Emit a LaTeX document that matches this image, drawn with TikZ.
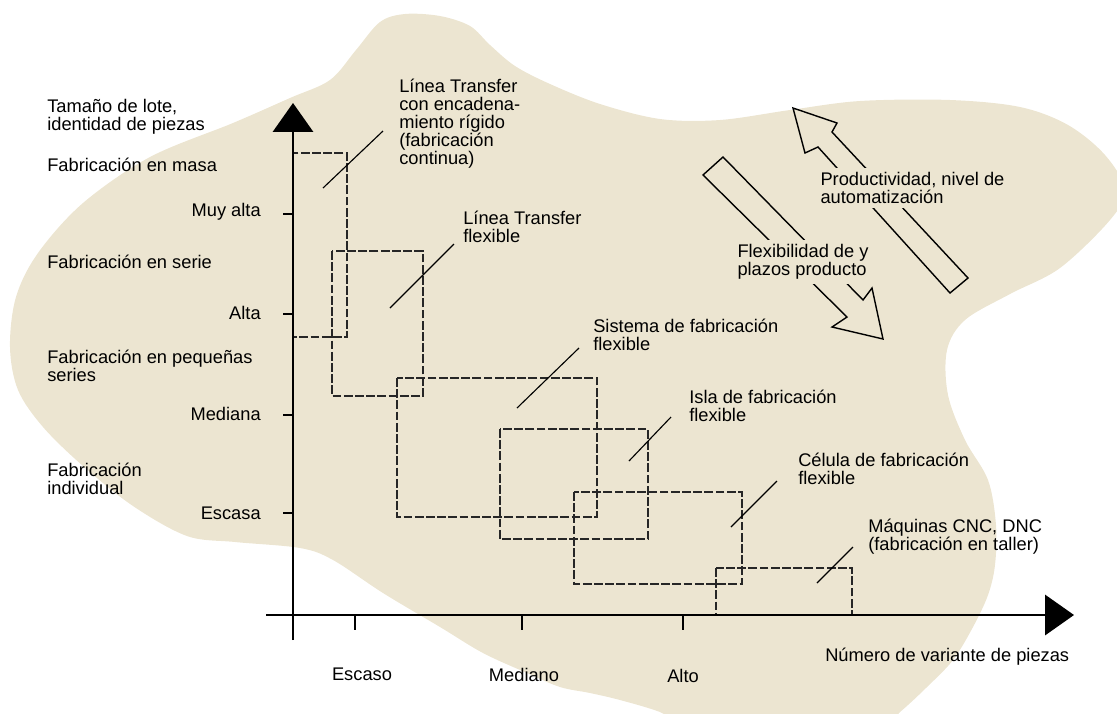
\documentclass[tikz,border=0pt]{standalone}
\usepackage{fontspec}
\setmainfont{Liberation Sans}
\usetikzlibrary{arrows.meta}
\definecolor{fondo}{RGB}{236,229,209}

\begin{document}
\begin{tikzpicture}[
    x=0.025cm, y=-0.025cm,
    eje/.style={line width=1.8pt, -{Triangle[length=0.72cm, width=1cm]}},
    marca/.style={line width=0.8pt},
    zona/.style={draw=black!85, line width=1.1pt, dash pattern=on 0.22cm off 0.06cm},
    guia/.style={line width=0.8pt},
    flecha/.style={draw, line width=1pt, line join=miter, fill=fondo},
    etiq/.style={inner sep=0pt, align=left, anchor=west,
        font=\fontsize{13}{12.8}\selectfont},
    nivel/.style={etiq, anchor=east, align=right},
    cruce/.style={etiq, fill=fondo, inner sep=3pt}
    ]

\useasboundingbox (0,0) rectangle (1117,713);

%background blob
\begin{scope}
\clip (0,0) rectangle (1117,713);
\fill[fondo] plot[smooth cycle, tension=0.55] coordinates {
    (330,80) (356,50) (380,22) (405,14) (440,16) (470,26) (490,45) (515,66)
    (550,84) (600,104) (660,119) (720,120) (790,110) (860,101) (950,100)
    (1020,107) (1068,125) (1105,155) (1125,190) (1110,220) (1060,268)
    (1010,294) (965,320) (947,350) (948,395) (965,440) (988,480) (996,525)
    (995,565) (988,595) (973,627) (953,660) (927,687) (900,712) (870,735)
    (700,730) (660,712) (620,700) (590,693) (560,687) (527,673) (483,653)
    (440,627) (383,593) (333,560) (300,548) (235,542) (187,536)
    (133,506) (83,466) (43,427) (18,390) (10,347) (16,297) (38,253)
    (83,203) (150,157) (233,123) (290,98)};
\end{scope}

%zones
\draw[zona] (293,153) rectangle (347,337);
\draw[zona] (332,251) rectangle (423,396);
\draw[zona] (397,378) rectangle (597,517);
\draw[zona] (500,429) rectangle (648,539);
\draw[zona] (574,492) rectangle (742,584);
\draw[zona] (716,568) rectangle (852,615);

%axes
\draw[eje] (293,640) -- (293,103);
\draw[eje] (266,615) -- (1074,615);
\draw[marca] (283,214) -- (293,214);
\draw[marca] (283,314) -- (293,314);
\draw[marca] (283,415) -- (293,415);
\draw[marca] (283,513) -- (293,513);
\draw[marca] (355,615) -- (355,630);
\draw[marca] (522,615) -- (522,630);
\draw[marca] (683,615) -- (683,630);

%left side
\node[etiq] (lote) at (47,117) {Tamaño de lote,\\identidad de piezas};
\node[etiq] (masa) at (47,165) {Fabricación en masa};
\node[etiq] (serie) at (47,262) {Fabricación en serie};
\node[etiq] (pequenas) at (47,366) {Fabricación en pequeñas\\series};
\node[etiq] (individual) at (47,479) {Fabricación\\individual};
\node[nivel] (muyalta) at (261,212) {Muy alta};
\node[nivel] (alta) at (261,313) {Alta};
\node[nivel] (mediana) at (261,414) {Mediana};
\node[nivel] (escasa) at (261,513) {Escasa};

%bottom
\node[etiq, anchor=center] (escaso) at (362,674) {Escaso};
\node[etiq, anchor=center] (mediano) at (524,675) {Mediano};
\node[etiq, anchor=center] (alto) at (683,676) {Alto};
\node[etiq] (variantes) at (825,657) {Número de variante de piezas};

%zone labels
\node[etiq] (rigida) at (399,124) {Línea Transfer\\con encadena-\\miento rígido\\(fabricación\\continua)};
\node[etiq] (transfer) at (463,227) {Línea Transfer\\flexible};
\node[etiq] (sistema) at (593,335) {Sistema de fabricación\\flexible};
\node[etiq] (isla) at (689,406) {Isla de fabricación\\flexible};
\node[etiq] (celula) at (798,469) {Célula de fabricación\\flexible};
\node[etiq] (maquinas) at (868,537) {Máquinas CNC, DNC\\(fabricación en taller)};

\draw[guia] (323,188) -- (383,131);
\draw[guia] (390,308) -- (454,244);
\draw[guia] (517,408) -- (579,348);
\draw[guia] (629,461) -- (671,417);
\draw[guia] (731,527) -- (777,481);
\draw[guia] (817,583) -- (853,547);

%trend arrows
\draw[flecha] (793,108) -- (837,123) -- (832,132) -- (968,278) -- (950,293)
    -- (818,147) -- (805,153) -- cycle;
\draw[flecha] (883,339) -- (872,288) -- (863,300) -- (723,157) -- (703,175)
    -- (847,317) -- (832,327) -- cycle;
\node[cruce] (productividad) at (816,188) {Productividad, nivel de\\automatización};
\node[cruce] (flexibilidad) at (733,262) {Flexibilidad de y\\plazos producto};
\end{tikzpicture}
\end{document}
